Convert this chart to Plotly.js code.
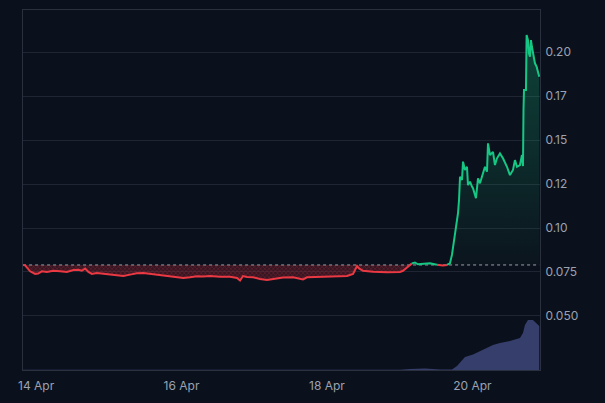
<!DOCTYPE html>
<html><head><meta charset="utf-8">
<script src="https://cdn.plot.ly/plotly-3.0.1.min.js"></script>
<style>html,body{margin:0;padding:0;background:#0b111c;} #chart{width:605px;height:403px;}</style>
</head><body><div id="chart"></div>
<script>
const times = [
"2025-04-13 19:42","2025-04-13 20:22","2025-04-13 22:01","2025-04-13 23:40","2025-04-14 00:40","2025-04-14 01:53",
"2025-04-14 03:32","2025-04-14 05:42","2025-04-14 07:55","2025-04-14 10:08","2025-04-14 12:18","2025-04-14 13:57",
"2025-04-14 15:05","2025-04-14 16:10","2025-04-14 17:15","2025-04-14 18:23","2025-04-14 20:02","2025-04-14 22:12",
"2025-04-15 00:25","2025-04-15 02:38","2025-04-15 04:48","2025-04-15 07:01","2025-04-15 09:13","2025-04-15 11:24",
"2025-04-15 13:37","2025-04-15 15:50","2025-04-15 18:00","2025-04-15 20:13","2025-04-15 22:26","2025-04-16 00:36",
"2025-04-16 02:49","2025-04-16 05:02","2025-04-16 07:10","2025-04-16 09:25","2025-04-16 12:43",
"2025-04-16 16:01","2025-04-16 18:19","2025-04-16 19:19","2025-04-16 20:18","2025-04-16 21:37","2025-04-16 23:36",
"2025-04-17 01:55","2025-04-17 04:13","2025-04-17 06:12","2025-04-17 09:30","2025-04-17 12:48","2025-04-17 16:06",
"2025-04-17 17:25","2025-04-17 21:43","2025-04-18 02:00","2025-04-18 06:38","2025-04-18 08:37","2025-04-18 09:56",
"2025-04-18 10:35","2025-04-18 11:54","2025-04-18 15:12","2025-04-18 19:50","2025-04-19 00:07","2025-04-19 01:06",
"2025-04-19 02:45","2025-04-19 04:04","2025-04-19 05:03","2025-04-19 06:02","2025-04-19 07:41","2025-04-19 09:00",
"2025-04-19 10:00","2025-04-19 12:18","2025-04-19 14:17","2025-04-19 15:36","2025-04-19 16:36","2025-04-19 17:16",
"2025-04-19 17:56","2025-04-19 18:36","2025-04-19 19:16","2025-04-19 19:36","2025-04-19 19:56","2025-04-19 20:35",
"2025-04-19 20:55","2025-04-19 21:34","2025-04-19 22:14","2025-04-19 22:34","2025-04-19 23:13","2025-04-19 23:53",
"2025-04-20 00:13","2025-04-20 01:12","2025-04-20 01:52","2025-04-20 02:31","2025-04-20 03:31","2025-04-20 04:10",
"2025-04-20 04:50","2025-04-20 05:10","2025-04-20 05:49","2025-04-20 06:49","2025-04-20 07:28","2025-04-20 08:08",
"2025-04-20 09:07","2025-04-20 10:07","2025-04-20 11:26","2025-04-20 12:25","2025-04-20 13:25","2025-04-20 14:04",
"2025-04-20 14:44","2025-04-20 15:43","2025-04-20 16:23","2025-04-20 16:43","2025-04-20 16:53","2025-04-20 17:03",
"2025-04-20 17:42","2025-04-20 17:55","2025-04-20 18:22","2025-04-20 18:41","2025-04-20 19:01","2025-04-20 19:21",
"2025-04-20 19:40","2025-04-20 20:06","2025-04-20 20:40","2025-04-20 21:13","2025-04-20 21:45","2025-04-20 22:05"
];
const prices = [
0.0790,0.0788,0.0754,0.0739,0.0741,0.0754,
0.0750,0.0757,0.0754,0.0750,0.0761,0.0763,
0.0757,0.0769,0.0750,0.0739,0.0744,0.0740,
0.0735,0.0731,0.0727,0.0735,0.0743,0.0744,
0.0739,0.0735,0.0731,0.0726,0.0720,0.0716,
0.0720,0.0726,0.0724,0.0727,0.0723,
0.0723,0.0716,0.0702,0.0727,0.0722,0.0720,
0.0710,0.0705,0.0710,0.0718,0.0720,0.0708,
0.0720,0.0723,0.0723,0.0727,0.0739,0.0784,
0.0770,0.0757,0.0752,0.0748,0.0750,0.0757,
0.0780,0.0799,0.0804,0.0794,0.0795,0.0795,
0.0799,0.0791,0.0787,0.0790,0.0799,0.0847,
0.0932,0.1007,0.1084,0.1159,0.1291,0.1273,
0.1377,0.1330,0.1348,0.1244,0.1263,0.1235,
0.1226,0.1169,0.1282,0.1254,0.1311,0.1348,
0.1320,0.1481,0.1415,0.1433,0.1358,0.1396,
0.1424,0.1396,0.1348,0.1301,0.1330,0.1386,
0.1348,0.1358,0.1415,0.1352,0.1670,0.1784,
0.1784,0.2097,0.2068,0.1993,0.1973,0.2068,
0.2030,0.1983,0.1936,0.1917,0.1869,0.1860
];
const baseline = 0.0790;

const volTimes = [
"2025-04-13 19:42","2025-04-16 00:00","2025-04-18 12:00","2025-04-19 00:07","2025-04-19 03:26","2025-04-19 08:23",
"2025-04-19 13:20","2025-04-19 17:16","2025-04-19 18:56","2025-04-19 20:35","2025-04-19 21:34","2025-04-20 00:13",
"2025-04-20 02:31","2025-04-20 04:50","2025-04-20 06:49","2025-04-20 09:07","2025-04-20 12:25","2025-04-20 15:43",
"2025-04-20 16:43","2025-04-20 17:22","2025-04-20 18:22","2025-04-20 20:00","2025-04-20 21:00","2025-04-20 22:05"
];
const volumes = [
0.01,0.01,0.01,0.015,0.05,0.07,
0.03,0.03,0.20,0.52,0.65,0.78,
0.95,1.10,1.25,1.35,1.45,1.60,
1.85,2.25,2.50,2.50,2.35,2.20
];

const yTickVals = [0.05, 0.075, 0.1, 0.125, 0.15, 0.175, 0.2];
const yTickText = ["0.050", "0.075", "0.10", "0.12", "0.15", "0.17", "0.20"];

const RED = "#ea3943", GREEN = "#16c784";
const baseArr = times.map(() => baseline);
const lowArr = prices.map(p => Math.min(p, baseline));
const highArr = prices.map(p => Math.max(p, baseline));
const redLine = prices.map(() => null), greenLine = prices.map(() => null);
for (let i = 0; i < prices.length - 1; i++) {
  const mid = (prices[i] + prices[i + 1]) / 2;
  const arr = mid < baseline ? redLine : greenLine;
  arr[i] = prices[i]; arr[i + 1] = prices[i + 1];
}

const traces = [
  {x: volTimes, y: volumes, yaxis: "y2", type: "scatter", mode: "lines", fill: "tozeroy",
   line: {width: 0, color: "#363e6c"}, fillcolor: "#363e6c", hoverinfo: "skip"},
  {x: times, y: baseArr, mode: "lines", line: {width: 0}, hoverinfo: "skip"},
  {x: times, y: lowArr, mode: "lines", line: {width: 0}, fill: "tonexty",
   fillcolor: "rgba(234,57,67,0.25)",
   fillpattern: {shape: "x", size: 3, solidity: 0.25, fgcolor: "rgba(234,57,67,0.4)", bgcolor: "rgba(120,30,45,0.4)"},
   hoverinfo: "skip"},
  {x: times, y: baseArr, mode: "lines", line: {width: 0}, hoverinfo: "skip"},
  {x: times, y: highArr, mode: "lines", line: {width: 0}, fill: "tonexty",
   fillgradient: {type: "vertical", start: baseline, stop: 0.21,
     colorscale: [[0, "rgba(22,199,132,0.02)"], [1, "rgba(22,199,132,0.28)"]]},
   hoverinfo: "skip"},
  {x: [times[0], times[times.length - 1]], y: [baseline, baseline], mode: "lines",
   line: {width: 1, dash: "dot", color: "rgba(200,205,215,0.75)"}, hoverinfo: "skip"},
  {x: times, y: redLine, mode: "lines", line: {width: 2, color: RED}, connectgaps: false, hoverinfo: "skip"},
  {x: times, y: greenLine, mode: "lines", line: {width: 2, color: GREEN}, connectgaps: false, hoverinfo: "skip"}
];

const layout = {
  width: 605, height: 403,
  paper_bgcolor: "#0b111c", plot_bgcolor: "#0b111c",
  margin: {l: 23, r: 65, t: 10, b: 33},
  showlegend: false,
  font: {family: "Inter, 'Noto Sans', sans-serif", size: 12, color: "#9ba2b1"},
  xaxis: {type: "date", range: ["2025-04-13 19:40", "2025-04-20 22:20"],
    tick0: "2025-04-14", dtick: 2 * 86400000, tickformat: "%-d %b",
    showgrid: false, zeroline: false, showline: true, mirror: true, linecolor: "#2a303d", linewidth: 1,
    ticks: "", ticklabelstandoff: 5, tickfont: {size: 12, color: "#9ba2b1"}},
  yaxis: {side: "right", range: [0.0193, 0.2239], tickvals: yTickVals, ticktext: yTickText,
    showgrid: true, gridcolor: "#1f2532", gridwidth: 1, zeroline: false,
    showline: true, mirror: true, linecolor: "#2a303d", linewidth: 1,
    ticks: "", ticklabelstandoff: 2, tickfont: {size: 12, color: "#9ba2b1"}},
  yaxis2: {overlaying: "y", range: [0, 18], visible: false, fixedrange: true}
};

Plotly.newPlot("chart", traces, layout, {staticPlot: true, displayModeBar: false});
</script>
</body></html>
